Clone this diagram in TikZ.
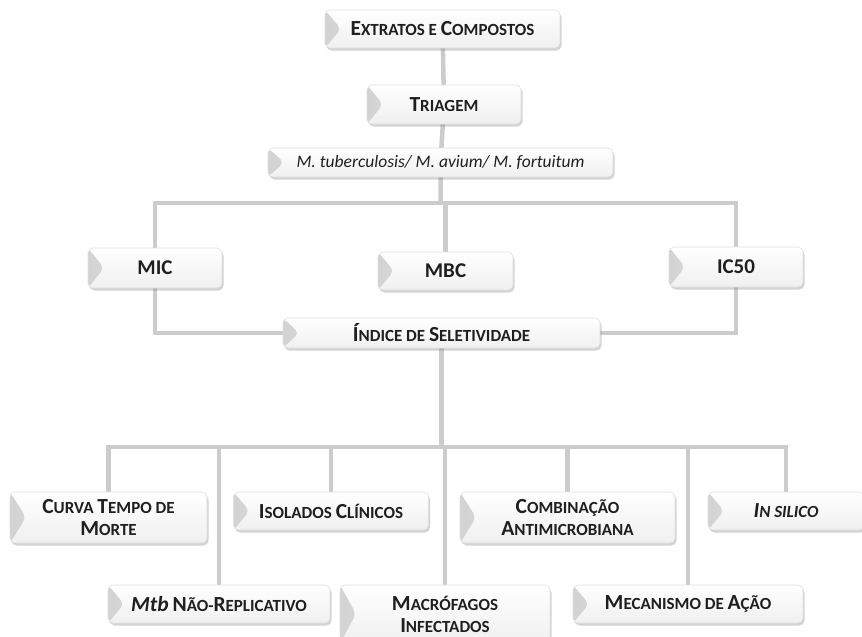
\documentclass[tikz,border=0pt]{standalone}
\usepackage{fontspec}
\setmainfont{Carlito}
\usetikzlibrary{shadows,backgrounds}

% large initial capital inside a small-caps style label
\newcommand\Lc[1]{{\fontsize{21.5}{22}\selectfont #1}}

\tikzset{
  box/.style={
    rectangle, rounded corners=5pt, draw=gray!25, line width=0.6pt,
    top color=white, bottom color=gray!12,
    drop shadow={opacity=0.35, shadow xshift=1.5pt, shadow yshift=-2.5pt},
    text=black!88, inner sep=0pt, align=center,
    font=\bfseries\fontsize{17}{22}\selectfont,
    path picture={
      \shade[left color=gray!35, right color=gray!6]
        (path picture bounding box.north west)
        -- ([xshift=16pt]path picture bounding box.west)
        -- (path picture bounding box.south west) -- cycle;
    }
  },
  bigbox/.style={box, font=\bfseries\fontsize{21}{22}\selectfont},
  italbox/.style={box, font=\itshape\fontsize{17.5}{20}\selectfont},
  conn/.style={draw=gray!40, line width=4.5pt}
}

\begin{document}
\begin{tikzpicture}[x=1pt, y=-1pt]
\useasboundingbox (0,0) rectangle (862,637);
\clip (0,0) rectangle (862,637);

% upper chain
\node[box, minimum width=235pt, minimum height=38pt] (ext) at (442.5,29)
  {\Lc{E}XTRATOS E \Lc{C}OMPOSTOS};
\node[box, minimum width=154pt, minimum height=39pt] (tri) at (444,104.5)
  {\Lc{T}RIAGEM};
\node[italbox, minimum width=345pt, minimum height=29pt] (mtb) at (440.5,162.5)
  {M. tuberculosis/ M. avium/ M. fortuitum};

% assays
\node[bigbox, minimum width=134pt, minimum height=40pt] (mic) at (155,268) {MIC};
\node[bigbox, minimum width=135pt, minimum height=38pt] (mbc) at (445.5,271) {MBC};
\node[bigbox, minimum width=134pt, minimum height=40pt] (ic) at (736,267) {IC50};
\node[box, minimum width=317pt, minimum height=30pt] (idx) at (441.5,333)
  {\Lc{Í}NDICE DE \Lc{S}ELETIVIDADE};

% follow-up studies, upper row
\node[box, minimum width=197pt, minimum height=51pt] (cur) at (108.5,517.5)
  {\Lc{C}URVA \Lc{T}EMPO DE\\\Lc{M}ORTE};
\node[box, minimum width=195pt, minimum height=38pt] (iso) at (331,511)
  {\Lc{I}SOLADOS \Lc{C}LÍNICOS};
\node[box, minimum width=215pt, minimum height=51pt] (com) at (567.5,517.5)
  {\Lc{C}OMBINAÇÃO\\\Lc{A}NTIMICROBIANA};
\node[box, minimum width=156pt, minimum height=38pt] (sil) at (786,511)
  {\itshape\Lc{I}N SILICO};

% follow-up studies, lower row
\node[box, minimum width=222pt, minimum height=38pt] (nrep) at (219,604)
  {\Lc{\itshape Mtb} \Lc{N}ÃO-\Lc{R}EPLICATIVO};
\node[box, minimum width=210pt, minimum height=58pt] (mac) at (445,614)
  {\Lc{M}ACRÓFAGOS\\\Lc{I}NFECTADOS};
\node[box, minimum width=230pt, minimum height=38pt] (mec) at (688,604)
  {\Lc{M}ECANISMO DE \Lc{A}ÇÃO};

\coordinate (busA) at (443,203);
\coordinate (busB) at (443,447);

\begin{scope}[on background layer]
  \draw[conn] (ext.center) -- (tri.center) -- (mtb.center) -- (mtb |- busA);
  \draw[conn] (mbc.center) -- (mbc |- busA);
  \draw[conn] (idx.center) -- (mic |- idx) -- (mic |- busA)
     -- (ic |- busA) -- (ic |- idx) -- (idx.center);
  \draw[conn] (idx.center) -- (idx |- busB);
  \draw[conn] (cur.center) -- (cur |- busB) -- (sil |- busB) -- (sil.center);
  \draw[conn] (nrep |- busB) -- (nrep.center);
  \draw[conn] (iso |- busB) -- (iso.center);
  \draw[conn] (mac |- busB) -- (mac.center);
  \draw[conn] (com |- busB) -- (com.center);
  \draw[conn] (mec |- busB) -- (mec.center);
\end{scope}
\end{tikzpicture}
\end{document}
